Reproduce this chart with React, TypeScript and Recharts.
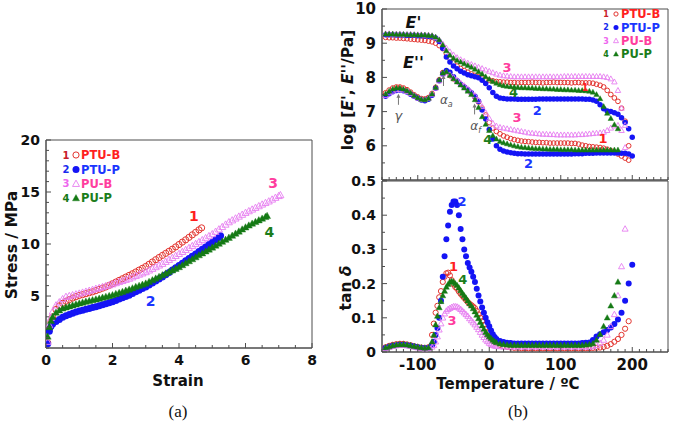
import React from 'react'
import { ScatterChart, Scatter, XAxis, YAxis, ReferenceArea, ReferenceDot } from 'recharts'

const FONT = '"DejaVu Sans", Verdana, sans-serif'
const AXIS = '#4d4d4d'
const INK = '#111'

const RED = '#e3342f'
const BLUE = '#1414f5'
const PINK = '#e67ef0'
const GREEN = '#157a15'
const RED_T = '#ff1f1f'
const BLUE_T = '#1a35ff'
const PINK_T = '#ff3d9e'
const GREEN_T = '#1b7d1b'

// ---- panel (a): stress-strain ----
const strainPTUB = [0.05, 0.1, 0.15, 0.2, 0.3, 0.4, 0.5, 0.6, 0.7, 0.8, 0.9, 1.0, 1.1, 1.2, 1.3, 1.4, 1.5, 1.6, 1.7, 1.8, 1.9, 2.0, 2.1, 2.2, 2.3, 2.4, 2.5, 2.6, 2.7, 2.8, 2.9, 3.0, 3.1, 3.2, 3.3, 3.4, 3.5, 3.6, 3.7, 3.8, 3.9, 4.0, 4.1, 4.2, 4.3, 4.4, 4.5, 4.6, 4.68]
const stressPTUB = [0.5, 1.8, 2.5, 3.0, 3.7, 4.05, 4.3, 4.5, 4.65, 4.8, 4.93, 5.05, 5.13, 5.22, 5.31, 5.4, 5.51, 5.63, 5.75, 5.87, 6.02, 6.18, 6.34, 6.5, 6.66, 6.82, 6.98, 7.14, 7.31, 7.49, 7.66, 7.84, 8.05, 8.27, 8.49, 8.7, 8.9, 9.1, 9.3, 9.5, 9.72, 9.95, 10.18, 10.4, 10.64, 10.88, 11.12, 11.36, 11.55]

const strainPTUP = [0.05, 0.1, 0.15, 0.2, 0.3, 0.4, 0.5, 0.6, 0.7, 0.8, 0.9, 1.0, 1.1, 1.2, 1.3, 1.4, 1.5, 1.6, 1.7, 1.8, 1.9, 2.0, 2.1, 2.2, 2.3, 2.4, 2.5, 2.6, 2.7, 2.8, 2.9, 3.0, 3.1, 3.2, 3.3, 3.4, 3.5, 3.6, 3.7, 3.8, 3.9, 4.0, 4.1, 4.2, 4.3, 4.4, 4.5, 4.6, 4.7, 4.8, 4.9, 5.0, 5.1, 5.2, 5.25]
const stressPTUP = [0.4, 1.6, 2.1, 2.3, 2.54, 2.75, 2.95, 3.1, 3.22, 3.33, 3.45, 3.56, 3.64, 3.72, 3.8, 3.89, 3.97, 4.06, 4.15, 4.25, 4.34, 4.44, 4.57, 4.7, 4.82, 4.95, 5.08, 5.24, 5.4, 5.55, 5.71, 5.87, 6.06, 6.25, 6.45, 6.64, 6.83, 7.05, 7.27, 7.5, 7.72, 7.94, 8.16, 8.38, 8.61, 8.83, 9.05, 9.27, 9.5, 9.72, 9.94, 10.16, 10.4, 10.62, 10.8]

const strainPUB = [0.05, 0.1, 0.15, 0.2, 0.3, 0.4, 0.5, 0.6, 0.7, 0.8, 0.9, 1.0, 1.1, 1.2, 1.3, 1.4, 1.5, 1.6, 1.7, 1.8, 1.9, 2.0, 2.1, 2.2, 2.3, 2.4, 2.5, 2.6, 2.7, 2.8, 2.9, 3.0, 3.1, 3.2, 3.3, 3.4, 3.5, 3.6, 3.7, 3.8, 3.9, 4.0, 4.1, 4.2, 4.3, 4.4, 4.5, 4.6, 4.7, 4.8, 4.9, 5.0, 5.1, 5.2, 5.3, 5.4, 5.5, 5.6, 5.7, 5.8, 5.9, 6.0, 6.1, 6.2, 6.3, 6.4, 6.5, 6.6, 6.7, 6.8, 6.9, 7.0, 7.05]
const stressPUB = [0.6, 2.2, 2.9, 3.5, 4.1, 4.4, 4.7, 4.92, 5.0, 5.08, 5.16, 5.24, 5.33, 5.42, 5.51, 5.6, 5.7, 5.78, 5.87, 5.96, 6.04, 6.13, 6.24, 6.35, 6.45, 6.56, 6.67, 6.8, 6.93, 7.06, 7.18, 7.3, 7.46, 7.62, 7.78, 7.94, 8.1, 8.29, 8.48, 8.67, 8.86, 9.05, 9.24, 9.43, 9.62, 9.81, 10.0, 10.19, 10.38, 10.57, 10.76, 10.95, 11.18, 11.41, 11.64, 11.87, 12.1, 12.28, 12.46, 12.64, 12.82, 13.0, 13.16, 13.32, 13.48, 13.64, 13.8, 13.95, 14.1, 14.28, 14.45, 14.62, 14.7]

const strainPUP = [0.05, 0.1, 0.15, 0.2, 0.3, 0.4, 0.5, 0.6, 0.7, 0.8, 0.9, 1.0, 1.1, 1.2, 1.3, 1.4, 1.5, 1.6, 1.7, 1.8, 1.9, 2.0, 2.1, 2.2, 2.3, 2.4, 2.5, 2.6, 2.7, 2.8, 2.9, 3.0, 3.1, 3.2, 3.3, 3.4, 3.5, 3.6, 3.7, 3.8, 3.9, 4.0, 4.1, 4.2, 4.3, 4.4, 4.5, 4.6, 4.7, 4.8, 4.9, 5.0, 5.1, 5.2, 5.3, 5.4, 5.5, 5.6, 5.7, 5.8, 5.9, 6.0, 6.1, 6.2, 6.3, 6.4, 6.5, 6.6, 6.65]
const stressPUP = [1.1, 2.0, 2.6, 3.0, 3.4, 3.62, 3.8, 3.9, 4.0, 4.1, 4.2, 4.29, 4.37, 4.45, 4.52, 4.6, 4.67, 4.75, 4.84, 4.92, 5.0, 5.08, 5.19, 5.3, 5.4, 5.51, 5.62, 5.74, 5.87, 5.98, 6.09, 6.2, 6.36, 6.52, 6.68, 6.84, 7.0, 7.16, 7.31, 7.47, 7.62, 7.78, 7.97, 8.16, 8.35, 8.54, 8.73, 8.92, 9.1, 9.29, 9.47, 9.66, 9.85, 10.03, 10.22, 10.41, 10.6, 10.8, 11.0, 11.2, 11.4, 11.6, 11.78, 11.96, 12.12, 12.28, 12.44, 12.6, 12.7]

const strainTicks = [0, 0.5, 1, 1.5, 2, 2.5, 3, 3.5, 4, 4.5, 5, 5.5, 6, 6.5, 7, 7.5, 8]
const strainLabels = [0, 2, 4, 6, 8]
const stressTicks = [0, 1, 2, 3, 4, 5, 6, 7, 8, 9, 10, 11, 12, 13, 14, 15, 16, 17, 18, 19, 20]
const stressLabels = [5, 10, 15, 20]

// ---- panel (b) top: log E' and log E'' ----
const temps = [
  -145, -140, -135, -130, -125, -120, -115, -110, -105, -100,
  -95, -90, -85, -80, -75, -70, -65, -60, -55, -50,
  -45, -40, -35, -30, -25, -20, -15, -10, -5, 0,
  5, 10, 15, 20, 25, 30, 35, 40, 45, 50,
  55, 60, 65, 70, 75, 80, 85, 90, 95, 100,
  105, 110, 115, 120, 125, 130, 135, 140, 145, 150,
  155, 160, 165, 170, 175, 180, 185, 190, 195, 200,
]

const storPTUB = [
  9.17, 9.16, 9.16, 9.15, 9.15, 9.14, 9.13, 9.12, 9.11, 9.1,
  9.09, 9.08, 9.06, 9.04, 9.0, 8.93, 8.84, 8.7, 8.55, 8.42,
  8.33, 8.26, 8.2, 8.15, 8.1, 8.06, 8.02, 7.98, 7.95, 7.92,
  7.9, 7.88, 7.87, 7.86, 7.86, 7.85, 7.85, 7.84, 7.85, 7.85,
  7.85, 7.86, 7.85, 7.85, 7.84, 7.85, 7.85, 7.86, 7.85, 7.85,
  7.85, 7.85, 7.84, 7.85, 7.85, 7.84, 7.84, 7.84, 7.83, 7.8,
  7.77, 7.72, 7.62, 7.5, 7.4, 7.3, 7.1, 6.72, 6.0, null,
]
const lossPTUB = [
  7.55, 7.63, 7.69, 7.72, 7.72, 7.69, 7.64, 7.57, 7.49, 7.43,
  7.38, 7.37, 7.41, 7.53, 7.71, 7.93, 8.14, 8.16, 8.05, 7.96,
  7.88, 7.8, 7.72, 7.63, 7.53, 7.42, 7.28, 7.1, 6.9, 6.68,
  6.52, 6.42, 6.35, 6.29, 6.25, 6.21, 6.18, 6.16, 6.14, 6.13,
  6.12, 6.11, 6.1, 6.1, 6.09, 6.09, 6.08, 6.08, 6.08, 6.08,
  6.08, 6.08, 6.07, 6.07, 6.05, 6.02, 6.0, 5.98, 5.97, 5.96,
  5.95, 5.93, 5.9, 5.86, 5.82, 5.76, 5.7, 5.64, 5.58, null,
]
const storPTUP = [
  9.25, 9.25, 9.25, 9.24, 9.24, 9.24, 9.23, 9.23, 9.23, 9.22,
  9.22, 9.21, 9.2, 9.19, 9.15, 9.05, 8.85, 8.6, 8.45, 8.33,
  8.25, 8.18, 8.13, 8.08, 8.05, 8.02, 7.99, 7.92, 7.82, 7.7,
  7.56, 7.45, 7.4, 7.38, 7.37, 7.37, 7.37, 7.36, 7.36, 7.36,
  7.36, 7.36, 7.36, 7.37, 7.37, 7.37, 7.37, 7.37, 7.37, 7.37,
  7.37, 7.37, 7.37, 7.37, 7.37, 7.37, 7.36, 7.36, 7.34, 7.3,
  7.2, 7.08, 7.02, 7.0, 6.97, 6.92, 6.82, 6.68, 6.5, 6.25,
]
const lossPTUP = [
  7.45, 7.52, 7.58, 7.62, 7.63, 7.61, 7.57, 7.51, 7.45, 7.39,
  7.34, 7.32, 7.36, 7.48, 7.68, 7.9, 8.1, 8.2, 8.15, 8.02,
  7.9, 7.8, 7.72, 7.64, 7.55, 7.45, 7.3, 7.05, 6.78, 6.48,
  6.2, 6.0, 5.9, 5.85, 5.82, 5.8, 5.78, 5.77, 5.77, 5.76,
  5.76, 5.76, 5.76, 5.76, 5.76, 5.76, 5.76, 5.76, 5.76, 5.76,
  5.76, 5.76, 5.76, 5.77, 5.77, 5.77, 5.78, 5.78, 5.78, 5.79,
  5.79, 5.79, 5.79, 5.79, 5.79, 5.79, 5.78, 5.78, 5.76, 5.7,
]
const storPUB = [
  9.28, 9.28, 9.27, 9.27, 9.27, 9.26, 9.26, 9.26, 9.25, 9.25,
  9.25, 9.24, 9.24, 9.22, 9.17, 9.1, 8.98, 8.86, 8.75, 8.66,
  8.58, 8.52, 8.47, 8.42, 8.38, 8.34, 8.3, 8.26, 8.22, 8.18,
  8.14, 8.1, 8.07, 8.05, 8.04, 8.03, 8.02, 8.02, 8.02, 8.02,
  8.02, 8.02, 8.02, 8.02, 8.02, 8.02, 8.02, 8.02, 8.02, 8.02,
  8.03, 8.03, 8.03, 8.03, 8.03, 8.03, 8.03, 8.03, 8.03, 8.03,
  8.03, 8.02, 8.0, 7.96, 7.87, 7.62, 7.1, 6.6, null, null,
]
const lossPUB = [
  7.47, 7.55, 7.6, 7.64, 7.65, 7.63, 7.59, 7.53, 7.46, 7.4,
  7.36, 7.35, 7.39, 7.51, 7.69, 7.9, 8.1, 8.15, 8.08, 8.0,
  7.92, 7.84, 7.76, 7.67, 7.57, 7.47, 7.33, 7.15, 6.97, 6.8,
  6.66, 6.58, 6.54, 6.52, 6.5, 6.48, 6.46, 6.44, 6.42, 6.4,
  6.38, 6.37, 6.36, 6.35, 6.34, 6.34, 6.33, 6.33, 6.32, 6.32,
  6.32, 6.32, 6.32, 6.32, 6.33, 6.33, 6.34, 6.35, 6.36, 6.37,
  6.38, 6.4, 6.45, 6.52, 6.58, 6.6, 6.45, 5.95, null, null,
]
const storPUP = [
  9.27, 9.27, 9.27, 9.26, 9.26, 9.26, 9.25, 9.25, 9.25, 9.24,
  9.24, 9.24, 9.23, 9.22, 9.18, 9.1, 8.95, 8.78, 8.65, 8.56,
  8.5, 8.45, 8.4, 8.35, 8.3, 8.24, 8.17, 8.1, 8.02, 7.95,
  7.88, 7.83, 7.79, 7.76, 7.74, 7.73, 7.72, 7.71, 7.7, 7.7,
  7.69, 7.69, 7.68, 7.68, 7.67, 7.67, 7.66, 7.66, 7.65, 7.65,
  7.64, 7.64, 7.63, 7.63, 7.62, 7.62, 7.61, 7.6, 7.57, 7.5,
  7.38, 7.15, 6.95, 6.8, 6.62, 6.5, null, null, null, null,
]
const lossPUP = [
  7.52, 7.6, 7.66, 7.69, 7.69, 7.66, 7.61, 7.55, 7.47, 7.41,
  7.36, 7.35, 7.39, 7.52, 7.71, 7.93, 8.13, 8.17, 8.06, 7.96,
  7.87, 7.78, 7.69, 7.6, 7.5, 7.35, 7.12, 6.85, 6.63, 6.45,
  6.3, 6.2, 6.13, 6.09, 6.06, 6.03, 6.0, 5.98, 5.96, 5.95,
  5.94, 5.93, 5.92, 5.92, 5.91, 5.91, 5.9, 5.9, 5.9, 5.89,
  5.89, 5.89, 5.89, 5.88, 5.88, 5.88, 5.88, 5.88, 5.88, 5.88,
  5.88, 5.88, 5.88, 5.88, 5.88, 5.88, null, null, null, null,
]

// ---- panel (b) bottom: tan delta (denser through the glass transition) ----
const tanTemps = [
  -145, -140, -135, -130, -125, -120, -115, -110, -105, -100, -95, -90, -85,
  -80, -77.5, -75, -72.5, -70, -67.5, -65, -62.5, -60, -57.5,
  -55, -52.5, -50, -47.5, -45, -42.5, -40, -37.5, -35, -32.5,
  -30, -27.5, -25, -22.5, -20, -17.5, -15, -12.5, -10, -7.5,
  -5, -2.5, 0, 2.5, 5, 7.5, 10,
  15, 20, 25, 30, 35, 40, 45, 50,
  55, 60, 65, 70, 75, 80, 85, 90, 95, 100,
  105, 110, 115, 120, 125, 130, 135, 140, 145, 150,
  155, 160, 165, 170, 175, 180, 185, 190, 195, 200,
]
const tanPTUB = [
  0.014, 0.018, 0.021, 0.023, 0.024, 0.024, 0.022, 0.02, 0.017, 0.015, 0.013, 0.012, 0.014,
  0.05, 0.083, 0.115, 0.135, 0.16, 0.178, 0.205, 0.22, 0.23, 0.232,
  0.224, 0.21, 0.198, 0.19, 0.185, 0.177, 0.17, 0.164, 0.158, 0.152,
  0.146, 0.141, 0.137, 0.133, 0.128, 0.12, 0.11, 0.1, 0.09, 0.079,
  0.068, 0.058, 0.048, 0.041, 0.035, 0.031, 0.027,
  0.021, 0.017, 0.015, 0.013, 0.012, 0.012, 0.011, 0.011,
  0.011, 0.011, 0.011, 0.011, 0.011, 0.011, 0.011, 0.011, 0.011, 0.011,
  0.011, 0.011, 0.011, 0.011, 0.011, 0.011, 0.011, 0.011, 0.012, 0.012,
  0.013, 0.015, 0.018, 0.023, 0.03, 0.038, 0.05, 0.068, 0.09, null,
]
const tanPTUP = [
  0.012, 0.015, 0.018, 0.02, 0.021, 0.021, 0.02, 0.018, 0.016, 0.014, 0.012, 0.011, 0.012,
  0.02, 0.03, 0.05, 0.07, 0.1, 0.15, 0.22, 0.28, 0.33, 0.37,
  0.41, 0.43, 0.44, 0.44, 0.43, 0.4, 0.36, 0.33, 0.3, 0.28,
  0.26, 0.247, 0.235, 0.22, 0.205, 0.185, 0.165, 0.148, 0.13, 0.115,
  0.1, 0.087, 0.075, 0.063, 0.052, 0.044, 0.038,
  0.032, 0.029, 0.027, 0.026, 0.025, 0.025, 0.025, 0.025,
  0.025, 0.025, 0.025, 0.025, 0.025, 0.025, 0.025, 0.025, 0.025, 0.025,
  0.025, 0.025, 0.025, 0.025, 0.025, 0.026, 0.027, 0.028, 0.035, 0.045,
  0.052, 0.058, 0.064, 0.072, 0.082, 0.095, 0.115, 0.15, 0.2, 0.255,
]
const tanPUB = [
  0.011, 0.014, 0.017, 0.019, 0.02, 0.02, 0.019, 0.017, 0.015, 0.013, 0.011, 0.01, 0.011,
  0.015, 0.02, 0.03, 0.045, 0.065, 0.083, 0.1, 0.112, 0.12, 0.125,
  0.128, 0.131, 0.133, 0.133, 0.132, 0.129, 0.125, 0.12, 0.115, 0.11,
  0.105, 0.098, 0.092, 0.086, 0.08, 0.073, 0.066, 0.058, 0.05, 0.043,
  0.036, 0.031, 0.026, 0.023, 0.02, 0.018, 0.017,
  0.016, 0.015, 0.015, 0.015, 0.015, 0.015, 0.015, 0.015,
  0.015, 0.015, 0.015, 0.015, 0.015, 0.015, 0.015, 0.015, 0.015, 0.015,
  0.015, 0.015, 0.015, 0.015, 0.015, 0.015, 0.015, 0.015, 0.016, 0.02,
  0.026, 0.035, 0.05, 0.075, 0.11, 0.165, 0.25, 0.36, null, null,
]
const tanPUP = [
  0.013, 0.016, 0.019, 0.021, 0.022, 0.022, 0.021, 0.019, 0.017, 0.015, 0.013, 0.012, 0.013,
  0.03, 0.05, 0.08, 0.105, 0.13, 0.148, 0.165, 0.178, 0.19, 0.198,
  0.205, 0.207, 0.205, 0.2, 0.195, 0.188, 0.18, 0.172, 0.165, 0.158,
  0.15, 0.142, 0.135, 0.127, 0.118, 0.108, 0.098, 0.087, 0.077, 0.067,
  0.058, 0.051, 0.045, 0.04, 0.035, 0.031, 0.028,
  0.024, 0.022, 0.021, 0.02, 0.02, 0.02, 0.02, 0.02,
  0.02, 0.02, 0.02, 0.02, 0.02, 0.02, 0.02, 0.02, 0.02, 0.02,
  0.02, 0.02, 0.02, 0.02, 0.02, 0.02, 0.021, 0.022, 0.025, 0.035,
  0.052, 0.075, 0.1, 0.135, 0.165, 0.205, null, null, null, null,
]

const tempTicks = [-150, -140, -130, -120, -110, -100, -90, -80, -70, -60, -50, -40, -30, -20, -10, 0, 10, 20, 30, 40, 50, 60, 70, 80, 90, 100, 110, 120, 130, 140, 150, 160, 170, 180, 190, 200, 210, 220, 230, 240, 250]
const tempMajors = [-100, 0, 100, 200]
const logTicks = [5, 5.5, 6, 6.5, 7, 7.5, 8, 8.5, 9, 9.5, 10]
const logMajors = [5, 6, 7, 8, 9, 10]
const logLabels = [6, 7, 8, 9, 10]
const tanTicks = [0, 0.05, 0.1, 0.15, 0.2, 0.25, 0.3, 0.35, 0.4, 0.45, 0.5]
const tanLabels = [0, 0.1, 0.2, 0.3, 0.4, 0.5]

const legendNames = ['PTU-B', 'PTU-P', 'PU-B', 'PU-P']

type Kind = 'openCircle' | 'dot' | 'openTri' | 'tri'

function pairs(xs: number[], ys: (number | null)[]) {
  const out: { x: number; y: number }[] = []
  xs.forEach((x, i) => {
    const y = ys[i]
    if (y !== null && y !== undefined) out.push({ x, y })
  })
  return out
}

function markerEl(kind: Kind, color: string, size: number, cx: number, cy: number) {
  const r = size / 2
  if (kind === 'openCircle') return <circle cx={cx} cy={cy} r={r - 0.4} fill="none" stroke={color} strokeWidth={1} />
  if (kind === 'dot') return <circle cx={cx} cy={cy} r={r} fill={color} />
  const pts = `${cx},${cy - r * 1.05} ${cx + r},${cy + r * 0.75} ${cx - r},${cy + r * 0.75}`
  if (kind === 'tri') return <polygon points={pts} fill={color} stroke={color} strokeWidth={0.4} />
  return <polygon points={pts} fill="none" stroke={color} strokeWidth={0.9} />
}

function shapeOf(kind: Kind, color: string, size: number) {
  return (p: any) => {
    if (p.cx == null || p.cy == null) return <g />
    return markerEl(kind, color, size, p.cx, p.cy)
  }
}

const near = (list: number[], v: number) => list.some((m) => Math.abs(m - v) < 1e-6)
const fmt = (v: number) => String(Math.round(v * 100) / 100)

function yTick(majors: number[], labels: number[], fontSize: number) {
  return (p: any) => {
    const v = p.payload.value
    return (
      <g>
        <line x1={p.x} x2={p.x + (near(majors, v) ? 5 : 3)} y1={p.y} y2={p.y} stroke={AXIS} />
        {near(labels, v) && (
          <text x={p.x - 6} y={p.y} dy="0.36em" textAnchor="end" fontSize={fontSize} fontWeight="bold" fontFamily={FONT} fill={INK}>
            {fmt(v)}
          </text>
        )}
      </g>
    )
  }
}

function xTick(majors: number[], labels: number[], fontSize: number) {
  return (p: any) => {
    const v = p.payload.value
    return (
      <g>
        <line x1={p.x} x2={p.x} y1={p.y} y2={p.y - (near(majors, v) ? 5 : 3)} stroke={AXIS} />
        {near(labels, v) && (
          <text x={p.x} y={p.y + 7} dy="0.72em" textAnchor="middle" fontSize={fontSize} fontWeight="bold" fontFamily={FONT} fill={INK}>
            {fmt(v)}
          </text>
        )}
      </g>
    )
  }
}

function tag(value: React.ReactNode, color: string, size: number, italic = false, weight = 'bold') {
  return (p: any) => (
    <text x={p.cx} y={p.cy} dy="0.36em" textAnchor="middle" fontSize={size} fontWeight={weight} fontStyle={italic ? 'italic' : 'normal'} fontFamily={FONT} fill={color}>
      {value}
    </text>
  )
}

function arrowUp(len: number) {
  return (p: any) => (
    <g stroke="#777" fill="#777">
      <line x1={p.cx} x2={p.cx} y1={p.cy + 2} y2={p.cy + len} strokeWidth={1} />
      <polygon points={`${p.cx},${p.cy} ${p.cx - 2},${p.cy + 4} ${p.cx + 2},${p.cy + 4}`} strokeWidth={0} />
    </g>
  )
}

const panelA = [
  { name: 'PTU-B', data: pairs(strainPTUB, stressPTUB), kind: 'openCircle' as Kind, color: RED },
  { name: 'PTU-P', data: pairs(strainPTUP, stressPTUP), kind: 'dot' as Kind, color: BLUE },
  { name: 'PU-B', data: pairs(strainPUB, stressPUB), kind: 'openTri' as Kind, color: PINK },
  { name: 'PU-P', data: pairs(strainPUP, stressPUP), kind: 'tri' as Kind, color: GREEN },
]

const panelTop = [
  { name: 'PTU-B E1', data: pairs(temps, storPTUB), kind: 'openCircle' as Kind, color: RED },
  { name: 'PTU-B E2', data: pairs(temps, lossPTUB), kind: 'openCircle' as Kind, color: RED },
  { name: 'PTU-P E1', data: pairs(temps, storPTUP), kind: 'dot' as Kind, color: BLUE },
  { name: 'PTU-P E2', data: pairs(temps, lossPTUP), kind: 'dot' as Kind, color: BLUE },
  { name: 'PU-B E1', data: pairs(temps, storPUB), kind: 'openTri' as Kind, color: PINK },
  { name: 'PU-B E2', data: pairs(temps, lossPUB), kind: 'openTri' as Kind, color: PINK },
  { name: 'PU-P E1', data: pairs(temps, storPUP), kind: 'tri' as Kind, color: GREEN },
  { name: 'PU-P E2', data: pairs(temps, lossPUP), kind: 'tri' as Kind, color: GREEN },
]

const panelTan = [
  { name: 'PTU-B', data: pairs(tanTemps, tanPTUB), kind: 'openCircle' as Kind, color: RED },
  { name: 'PTU-P', data: pairs(tanTemps, tanPTUP), kind: 'dot' as Kind, color: BLUE },
  { name: 'PU-B', data: pairs(tanTemps, tanPUB), kind: 'openTri' as Kind, color: PINK },
  { name: 'PU-P', data: pairs(tanTemps, tanPUP), kind: 'tri' as Kind, color: GREEN },
]

const legendKinds: Kind[] = ['openCircle', 'dot', 'openTri', 'tri']
const legendMarkColors = [RED, BLUE, PINK, GREEN]
const legendNumColors = ['#c8202a', '#1a2aee', '#ee66ee', GREEN]
const legendTextColors = [RED_T, BLUE_T, PINK_T, GREEN_T]

function Legend({ x, y, step, numSize, textSize, mark }: { x: number; y: number; step: number; numSize: number; textSize: number; mark: number }) {
  return (
    <g fontFamily={FONT} fontWeight="bold">
      {legendNames.map((n, i) => {
        const cy = y + i * step
        return (
          <g key={n}>
            <text x={x} y={cy} dy="0.36em" textAnchor="middle" fontSize={numSize} fill={legendNumColors[i]}>{i + 1}</text>
            {markerEl(legendKinds[i], legendMarkColors[i], mark, x + 10, cy)}
            <text x={x + 15} y={cy} dy="0.36em" fontSize={textSize} fill={legendTextColors[i]}>{n}</text>
          </g>
        )
      })}
    </g>
  )
}

export default function App() {
  return (
    <div style={{ position: 'absolute', left: 0, top: 0, width: 685, height: 429, background: '#fff', overflow: 'hidden' }}>
      {/* (a) stress-strain */}
      <div style={{ position: 'absolute', left: 0, top: 130 }}>
        <ScatterChart width={330} height={250} margin={{ top: 10, right: 18, bottom: 0, left: 0 }}>
          <XAxis type="number" dataKey="x" domain={[0, 8]} ticks={strainTicks} interval={0} allowDataOverflow
            tick={xTick(strainLabels, strainLabels, 14)} tickSize={0} tickMargin={0} tickLine={false}
            axisLine={{ stroke: AXIS }} height={32} />
          <YAxis type="number" dataKey="y" domain={[0, 20]} ticks={stressTicks} interval={0} allowDataOverflow
            tick={yTick(stressLabels, stressLabels, 14)} tickSize={0} tickMargin={0} tickLine={false}
            axisLine={{ stroke: AXIS }} width={46} />
          <ReferenceArea x1={0} x2={8} y1={0} y2={20} fill="none" stroke={AXIS} strokeWidth={1} ifOverflow="visible" />
          {panelA.map((s) => (
            <Scatter key={s.name} name={s.name} data={s.data} shape={shapeOf(s.kind, s.color, 7)} isAnimationActive={false} />
          ))}
          <ReferenceDot x={4.45} y={12.7} r={0} shape={tag('1', RED_T, 14)} ifOverflow="visible" />
          <ReferenceDot x={3.15} y={4.5} r={0} shape={tag('2', BLUE_T, 14)} ifOverflow="visible" />
          <ReferenceDot x={6.83} y={15.9} r={0} shape={tag('3', PINK_T, 14)} ifOverflow="visible" />
          <ReferenceDot x={6.72} y={11.2} r={0} shape={tag('4', GREEN_T, 14)} ifOverflow="visible" />
        </ScatterChart>
      </div>

      {/* (b) top: log E', E'' */}
      <div style={{ position: 'absolute', left: 340, top: 0 }}>
        <ScatterChart width={345} height={200} margin={{ top: 9, right: 17, bottom: 0, left: 0 }}>
          <XAxis type="number" dataKey="x" domain={[-150, 250]} ticks={tempTicks} interval={0} allowDataOverflow
            tick={xTick(tempMajors, [], 15)} tickSize={0} tickMargin={0} tickLine={false}
            axisLine={{ stroke: AXIS }} height={20} />
          <YAxis type="number" dataKey="y" domain={[5, 10]} ticks={logTicks} interval={0} allowDataOverflow
            tick={yTick(logMajors, logLabels, 15)} tickSize={0} tickMargin={0} tickLine={false}
            axisLine={{ stroke: AXIS }} width={42} />
          <ReferenceArea x1={-150} x2={250} y1={5} y2={10} fill="none" stroke={AXIS} strokeWidth={1} ifOverflow="visible" />
          {panelTop.map((s) => (
            <Scatter key={s.name} name={s.name} data={s.data} shape={shapeOf(s.kind, s.color, 5.5)} isAnimationActive={false} />
          ))}
          <ReferenceDot x={-106} y={9.62} r={0} shape={tag("E'", INK, 16, true)} ifOverflow="visible" />
          <ReferenceDot x={-106} y={8.45} r={0} shape={tag("E''", INK, 16, true)} ifOverflow="visible" />
          <ReferenceDot x={-127} y={7.52} r={0} shape={arrowUp(11)} ifOverflow="visible" />
          <ReferenceDot x={-127} y={6.9} r={0} shape={tag('γ', '#555', 13, true, 'normal')} ifOverflow="visible" />
          <ReferenceDot x={-64} y={8.07} r={0} shape={arrowUp(11)} ifOverflow="visible" />
          <ReferenceDot x={-60} y={7.34} r={0} shape={tag(<>α<tspan fontSize={8} dy={3}>a</tspan></>, '#555', 12, true, 'normal')} ifOverflow="visible" />
          <ReferenceDot x={-20.5} y={7.24} r={0} shape={arrowUp(11)} ifOverflow="visible" />
          <ReferenceDot x={-19} y={6.6} r={0} shape={tag(<>α<tspan fontSize={8} dy={3}>f</tspan></>, '#555', 12, true, 'normal')} ifOverflow="visible" />
          <ReferenceDot x={25} y={8.3} r={0} shape={tag('3', PINK_T, 13)} ifOverflow="visible" />
          <ReferenceDot x={34} y={7.55} r={0} shape={tag('4', GREEN_T, 13)} ifOverflow="visible" />
          <ReferenceDot x={67} y={7.05} r={0} shape={tag('2', BLUE_T, 13)} ifOverflow="visible" />
          <ReferenceDot x={134} y={7.72} r={0} shape={tag('1', RED_T, 10)} ifOverflow="visible" />
          <ReferenceDot x={39} y={6.84} r={0} shape={tag('3', PINK_T, 13)} ifOverflow="visible" />
          <ReferenceDot x={159} y={6.23} r={0} shape={tag('1', RED_T, 13)} ifOverflow="visible" />
          <ReferenceDot x={-2} y={6.18} r={0} shape={tag('4', GREEN_T, 13)} ifOverflow="visible" />
          <ReferenceDot x={55} y={5.5} r={0} shape={tag('2', BLUE_T, 13)} ifOverflow="visible" />
        </ScatterChart>
      </div>

      {/* (b) bottom: tan delta */}
      <div style={{ position: 'absolute', left: 340, top: 170 }}>
        <ScatterChart width={345} height={220} margin={{ top: 11, right: 17, bottom: 0, left: 0 }}>
          <XAxis type="number" dataKey="x" domain={[-150, 250]} ticks={tempTicks} interval={0} allowDataOverflow
            tick={xTick(tempMajors, tempMajors, 15)} tickSize={0} tickMargin={0} tickLine={false}
            axisLine={{ stroke: AXIS }} height={38} />
          <YAxis type="number" dataKey="y" domain={[0, 0.5]} ticks={tanTicks} interval={0} allowDataOverflow
            tick={yTick(tanLabels, tanLabels, 14)} tickSize={0} tickMargin={0} tickLine={false}
            axisLine={{ stroke: AXIS }} width={42} />
          <ReferenceArea x1={-150} x2={250} y1={0} y2={0.5} fill="none" stroke={AXIS} strokeWidth={1} ifOverflow="visible" />
          {panelTan.map((s) => (
            <Scatter key={s.name} name={s.name} data={s.data} shape={shapeOf(s.kind, s.color, 6)} isAnimationActive={false} />
          ))}
          <ReferenceDot x={-38} y={0.44} r={0} shape={tag('2', BLUE_T, 13)} ifOverflow="visible" />
          <ReferenceDot x={-50} y={0.25} r={0} shape={tag('1', RED_T, 13)} ifOverflow="visible" />
          <ReferenceDot x={-37} y={0.213} r={0} shape={tag('4', GREEN_T, 13)} ifOverflow="visible" />
          <ReferenceDot x={-52} y={0.094} r={0} shape={tag('3', PINK_T, 13)} ifOverflow="visible" />
        </ScatterChart>
      </div>

      {/* titles and legends */}
      <svg width={685} height={429} style={{ position: 'absolute', left: 0, top: 0, pointerEvents: 'none' }}>
        <g fontFamily={FONT} fontWeight="bold" fill={INK}>
          <text transform="translate(11,245) rotate(-90)" textAnchor="middle" dy="0.36em" fontSize={15.5}>Stress / MPa</text>
          <text x={178} y={381} textAnchor="middle" dy="0.36em" fontSize={15}>Strain</text>
          <text transform="translate(347,90) rotate(-90)" textAnchor="middle" dy="0.36em" fontSize={15.5}>
            log [<tspan fontStyle="italic">E'</tspan>, <tspan fontStyle="italic">E''</tspan>/Pa]
          </text>
          <text transform="translate(345,288) rotate(-90)" textAnchor="middle" dy="0.36em" fontSize={15.5}>
            tan <tspan fontStyle="italic">δ</tspan>
          </text>
          <text x={508} y={384} textAnchor="middle" dy="0.36em" fontSize={15}>Temperature / ºC</text>
        </g>
        <g fontFamily='"Liberation Serif", "Times New Roman", serif' fontSize={17} fill={INK}>
          <text x={178} y={411} textAnchor="middle" dy="0.36em">(a)</text>
          <text x={518} y={411} textAnchor="middle" dy="0.36em">(b)</text>
        </g>
        <Legend x={66} y={155} step={14.4} numSize={10} textSize={11.5} mark={7} />
        <Legend x={606} y={14} step={13.4} numSize={8} textSize={11.5} mark={5} />
      </svg>
    </div>
  )
}
